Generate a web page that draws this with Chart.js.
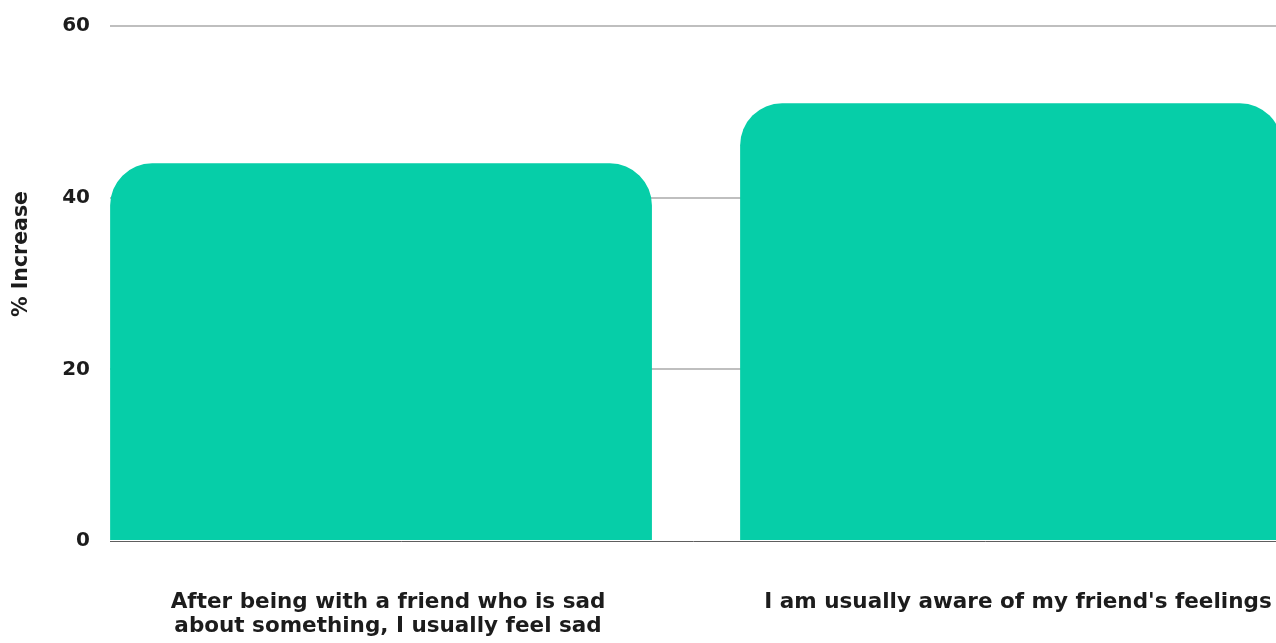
<!DOCTYPE html>
<html>
<head>
<meta charset="utf-8">
<title>% Increase</title>
<script src="https://cdn.jsdelivr.net/npm/chart.js@4/dist/chart.umd.min.js"></script>
<style>
  html, body { margin: 0; padding: 0; background: #ffffff; overflow: hidden; }
  #wrap { width: 1276px; height: 643px; }
</style>
</head>
<body>
<div id="wrap"><canvas id="chart" width="1276" height="643"></canvas></div>
<script>
// Survey statements shown under each bar (multi-line labels are arrays of lines)
const categories = [
  ["After being with a friend who is sad", "about something, I usually feel sad"],
  "I am usually aware of my friend's feelings"
];
// Percentage increase for each statement
const increases = [44, 51];
// Value axis ticks
const yTicks = [0, 20, 40, 60];

const barColor = "#06CEA8";
const textColor = "#1c1c1c";
const fontFamily = "'DejaVu Sans', sans-serif";

// Rotated axis title on the left
const axisTitle = {
  id: "axisTitle",
  afterDraw(chart) {
    const ctx = chart.ctx;
    ctx.save();
    ctx.translate(22, 254);
    ctx.rotate(-Math.PI / 2);
    ctx.font = "bold 20.5px " + fontFamily;
    ctx.fillStyle = textColor;
    ctx.textAlign = "center";
    ctx.textBaseline = "middle";
    ctx.fillText("% Increase", 0, 0);
    ctx.restore();
  }
};

new Chart(document.getElementById("chart"), {
  type: "bar",
  data: {
    datasets: [{
      data: increases.map((v, i) => ({ x: i, y: v })),
      backgroundColor: barColor,
      borderWidth: 0,
      borderRadius: { topLeft: 42, topRight: 42, bottomLeft: 0, bottomRight: 0 },
      borderSkipped: "bottom",
      categoryPercentage: 1,
      barPercentage: 0.86
    }]
  },
  options: {
    responsive: false,
    animation: false,
    layout: { padding: { top: 26, right: 0, bottom: 0, left: 0 } },
    plugins: {
      legend: { display: false },
      tooltip: { enabled: false }
    },
    scales: {
      x: {
        type: "linear",
        offset: false,
        min: -0.4302,
        max: 1.4206,
        afterBuildTicks(scale) {
          scale.ticks = categories.map((_, i) => ({ value: i }));
        },
        afterFit(scale) {
          scale.height = 102;
          scale.paddingLeft = 0;
          scale.paddingRight = 0;
        },
        grid: { display: false, drawTicks: false },
        border: { display: true, color: "#5e5e5e", width: 1 },
        ticks: {
          autoSkip: false,
          maxRotation: 0,
          minRotation: 0,
          padding: 50,
          labelOffset: 7,
          color: textColor,
          font: { family: fontFamily, size: 21.5, weight: "bold", lineHeight: 1.1 },
          callback: (v) => categories[v]
        }
      },
      y: {
        min: 0,
        max: 60,
        afterBuildTicks(scale) {
          scale.ticks = yTicks.map(v => ({ value: v }));
        },
        afterFit(scale) {
          scale.width = 110;
          scale.paddingTop = 0;
          scale.paddingBottom = 0;
        },
        grid: {
          drawTicks: false,
          lineWidth: 2,
          color: (c) => (c.tick && c.tick.value === 0) ? "rgba(0,0,0,0)" : "#bfbfbf"
        },
        border: { display: false },
        ticks: {
          padding: 20,
          color: textColor,
          font: { family: fontFamily, size: 20, weight: "bold" }
        }
      }
    }
  },
  plugins: [axisTitle]
});
</script>
</body>
</html>
